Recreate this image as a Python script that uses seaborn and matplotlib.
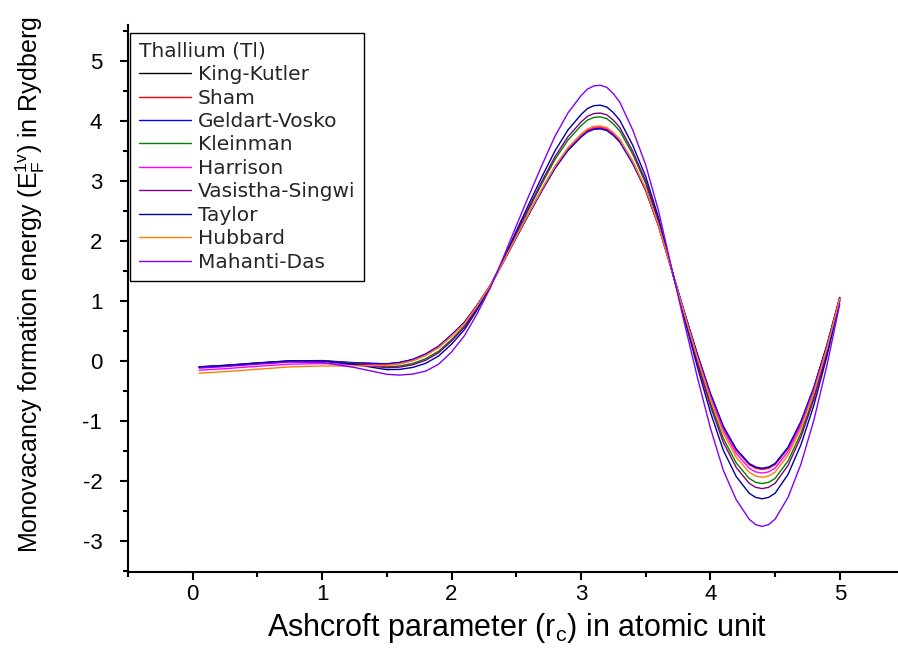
import matplotlib
matplotlib.use("Agg")
import matplotlib.pyplot as plt
from matplotlib.ticker import MultipleLocator
import pandas as pd
import seaborn as sns

# Ashcroft parameter r_c (atomic units)
rc = [0.05, 0.25, 0.5, 0.75, 1.0, 1.25, 1.5,
      1.6, 1.7, 1.8, 1.9, 2.0, 2.1, 2.2, 2.3, 2.4, 2.5, 2.6, 2.7, 2.8, 2.9, 3.0,
      3.05, 3.1, 3.15, 3.2, 3.25, 3.3,
      3.4, 3.5, 3.6, 3.7, 3.8, 3.9, 4.0, 4.1, 4.2, 4.3,
      4.35, 4.4, 4.45, 4.5,
      4.6, 4.7, 4.8, 4.9, 5.0]

king_kutler = [-0.11, -0.085, -0.045, -0.01, -0.005, -0.04, -0.055,
               -0.03, 0.02, 0.11, 0.24, 0.43, 0.64, 0.93, 1.26, 1.65, 2.06, 2.46, 2.85, 3.22, 3.52, 3.74,
               3.827, 3.87, 3.877, 3.85, 3.77, 3.66,
               3.30, 2.85, 2.25, 1.52, 0.80, 0.10, -0.55, -1.10, -1.48, -1.72,
               -1.78, -1.80, -1.78, -1.72,
               -1.45, -1.02, -0.45, 0.25, 1.05]
sham = [-0.105, -0.08, -0.04, -0.005, 0.0, -0.035, -0.05,
        -0.03, 0.02, 0.11, 0.24, 0.43, 0.64, 0.93, 1.26, 1.65, 2.06, 2.46, 2.86, 3.23, 3.53, 3.75,
        3.837, 3.88, 3.887, 3.86, 3.78, 3.67,
        3.31, 2.85, 2.25, 1.52, 0.79, 0.09, -0.56, -1.11, -1.49, -1.73,
        -1.79, -1.81, -1.79, -1.73,
        -1.46, -1.03, -0.46, 0.24, 1.05]
geldart_vosko = [-0.10, -0.075, -0.035, 0.0, 0.005, -0.03, -0.05,
                 -0.025, 0.025, 0.115, 0.245, 0.435, 0.645, 0.935, 1.26, 1.65, 2.055, 2.455, 2.845, 3.21, 3.51, 3.73,
                 3.817, 3.86, 3.867, 3.84, 3.76, 3.65,
                 3.29, 2.85, 2.25, 1.53, 0.81, 0.11, -0.54, -1.09, -1.47, -1.71,
                 -1.77, -1.79, -1.77, -1.71,
                 -1.44, -1.01, -0.44, 0.26, 1.06]
kleinman = [-0.105, -0.08, -0.04, -0.005, 0.0, -0.045, -0.10,
            -0.085, -0.044, 0.036, 0.161, 0.355, 0.581, 0.894, 1.249, 1.669, 2.111, 2.542, 2.962, 3.36, 3.683, 3.92,
            4.014, 4.06, 4.068, 4.039, 3.952, 3.834,
            3.446, 2.962, 2.315, 1.529, 0.754, 0.0, -0.70, -1.293, -1.702, -1.96,
            -2.025, -2.046, -2.025, -1.96,
            -1.669, -1.206, -0.592, 0.161, 1.023]
harrison = [-0.155, -0.13, -0.09, -0.055, -0.045, -0.06, -0.07,
            -0.045, 0.005, 0.095, 0.225, 0.415, 0.625, 0.92, 1.257, 1.653, 2.068, 2.473, 2.867, 3.242, 3.545, 3.768,
            3.856, 3.90, 3.907, 3.879, 3.798, 3.687,
            3.323, 2.867, 2.26, 1.521, 0.787, 0.071, -0.593, -1.155, -1.543, -1.789,
            -1.851, -1.87, -1.851, -1.789,
            -1.513, -1.073, -0.491, 0.225, 1.042]
vasistha_singwi = [-0.105, -0.08, -0.04, -0.005, 0.0, -0.05, -0.115,
                   -0.104, -0.065, 0.01, 0.135, 0.33, 0.562, 0.882, 1.246, 1.676, 2.128, 2.569, 2.999, 3.407, 3.738, 3.981,
                   4.077, 4.124, 4.132, 4.102, 4.014, 3.893,
                   3.496, 3.0, 2.338, 1.532, 0.738, -0.034, -0.751, -1.358, -1.777, -2.041,
                   -2.108, -2.13, -2.108, -2.041,
                   -1.744, -1.269, -0.641, 0.132, 1.014]
taylor = [-0.10, -0.075, -0.035, 0.0, 0.0, -0.06, -0.146,
          -0.142, -0.109, -0.041, 0.081, 0.279, 0.521, 0.857, 1.238, 1.689, 2.163, 2.625, 3.076, 3.504, 3.851, 4.105,
          4.206, 4.255, 4.263, 4.232, 4.14, 4.013,
          3.596, 3.076, 2.383, 1.539, 0.706, -0.103, -0.854, -1.49, -1.929, -2.207,
          -2.276, -2.299, -2.276, -2.207,
          -1.895, -1.398, -0.739, 0.071, 0.995]
hubbard = [-0.205, -0.18, -0.14, -0.10, -0.085, -0.085, -0.075,
           -0.05, 0.0, 0.09, 0.22, 0.41, 0.62, 0.92, 1.26, 1.654, 2.071, 2.477, 2.873, 3.249, 3.554, 3.777,
           3.866, 3.91, 3.917, 3.889, 3.808, 3.696,
           3.33, 2.873, 2.264, 1.522, 0.774, 0.043, -0.636, -1.21, -1.607, -1.857,
           -1.92, -1.941, -1.92, -1.857,
           -1.575, -1.126, -0.531, 0.2, 1.035]
mahanti_das = [-0.12, -0.095, -0.055, -0.02, -0.025, -0.11, -0.224,
               -0.237, -0.22, -0.171, -0.056, 0.149, 0.42, 0.794, 1.219, 1.723, 2.251, 2.767, 3.27, 3.748, 4.135, 4.419,
               4.531, 4.586, 4.595, 4.56, 4.457, 4.315,
               3.851, 3.271, 2.497, 1.555, 0.626, -0.277, -1.116, -1.825, -2.315, -2.64,
               -2.73, -2.76, -2.73, -2.64,
               -2.277, -1.722, -0.987, -0.084, 0.948]

series_names = ["King-Kutler", "Sham", "Geldart-Vosko", "Kleinman", "Harrison",
                "Vasistha-Singwi", "Taylor", "Hubbard", "Mahanti-Das"]
series_values = [king_kutler, sham, geldart_vosko, kleinman, harrison,
                 vasistha_singwi, taylor, hubbard, mahanti_das]
colors = ["#000000", "#FF0000", "#0000FF", "#008000", "#FF00FF",
          "#800080", "#0000A0", "#FF8000", "#8000FF"]

df = pd.concat(
    [pd.DataFrame({"rc": rc, "energy": vals, "model": name})
     for name, vals in zip(series_names, series_values)],
    ignore_index=True
)

sns.set_theme(style="ticks")
plt.rcParams["font.family"] = ["Liberation Sans", "DejaVu Sans"]
plt.rcParams["mathtext.fontset"] = "custom"
plt.rcParams["mathtext.rm"] = "Liberation Sans"
plt.rcParams["axes.unicode_minus"] = False

fig = plt.figure(figsize=(8.98, 6.55), dpi=100)
ax = fig.add_axes([128 / 898, 83 / 655, 770 / 898, 547 / 655])

sns.lineplot(
    data=df,
    x="rc",
    y="energy",
    hue="model",
    hue_order=series_names,
    palette=dict(zip(series_names, colors)),
    linewidth=1.0,
    ax=ax
)

ax.set_xlim(-0.5, 5.45)
ax.set_ylim(-3.52, 5.6)
ax.xaxis.set_major_locator(MultipleLocator(1))
ax.xaxis.set_minor_locator(MultipleLocator(0.5))
ax.yaxis.set_major_locator(MultipleLocator(1))
ax.yaxis.set_minor_locator(MultipleLocator(0.5))

sns.despine(ax=ax)
for side in ["left", "bottom"]:
    ax.spines[side].set_linewidth(1.5)
    ax.spines[side].set_color("black")
ax.tick_params(which="major", direction="out", length=6, width=1.5,
               labelsize=16, colors="black")
ax.tick_params(which="minor", direction="out", length=3.5, width=1.5, colors="black")
ax.tick_params(axis="x", which="major", pad=3)
ax.tick_params(axis="y", which="major", pad=12.5)

ax.set_xlabel(r"Ashcroft parameter (r$_\mathregular{c}$) in atomic unit",
              fontsize=22, color="black")
ax.set_ylabel(r"Monovacancy formation energy (E$_\mathregular{F}^\mathregular{1v}$) in Rydberg",
              fontsize=18, color="black")
ax.xaxis.set_label_coords(0.505, -0.071)
ax.yaxis.set_label_coords(-0.105, 0.525)

leg = ax.legend(
    title="Thallium (Tl)",
    loc="upper left",
    bbox_to_anchor=(0.003, 0.986),
    borderaxespad=0,
    prop={"family": "DejaVu Sans", "size": 14.5},
    title_fontproperties={"family": "DejaVu Sans", "size": 14.5},
    frameon=True,
    fancybox=False,
    framealpha=1,
    edgecolor="black",
    handlelength=2.55,
    handletextpad=0.35,
    labelspacing=0.22,
    alignment="left",
    borderpad=0.45
)
leg.get_frame().set_linewidth(1.0)

fig.savefig("out.png", dpi=100)
